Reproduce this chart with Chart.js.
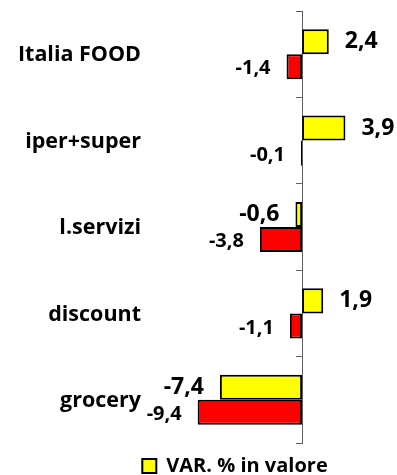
<!DOCTYPE html>
<html>
<head>
<meta charset="utf-8">
<script src="https://cdn.jsdelivr.net/npm/chart.js@4/dist/chart.umd.min.js"></script>
<style>
  html, body { margin: 0; padding: 0; background: #fff; }
  #wrap { width: 397px; height: 475px; }
</style>
</head>
<body>
<div id="wrap"><canvas id="chart"></canvas></div>
<script>
// categorie e variazioni percentuali
const categorie = ["Italia FOOD", "iper+super", "l.servizi", "discount", "grocery"];
const varValore = [2.4, 3.9, -0.6, 1.9, -7.4];
const varRossa = [-1.4, -0.1, -3.8, -1.1, -9.4];
const etichettaValore = "VAR. % in valore";

const FONT = "'Open Sans', sans-serif";

// numeri con la virgola come separatore decimale
function formatta(v) {
    return v.toFixed(1).replace(".", ",");
}

// scrive il valore accanto alla fine di ogni barra
const etichetteValori = {
    id: "etichetteValori",
    afterDatasetsDraw(chart) {
        const ctx = chart.ctx;
        chart.data.datasets.forEach((ds, i) => {
            const meta = chart.getDatasetMeta(i);
            const size = i === 0 ? 23 : 20;
            meta.data.forEach((bar, j) => {
                const v = ds.data[j];
                ctx.save();
                ctx.font = "bold " + size + "px " + FONT;
                ctx.fillStyle = "#000";
                ctx.textBaseline = "middle";
                if (v >= 0) {
                    ctx.textAlign = "left";
                    ctx.fillText(formatta(v), bar.x + 16, bar.y);
                } else {
                    ctx.textAlign = "right";
                    ctx.fillText(formatta(v), bar.x - 16, bar.y + (i === 0 ? 0 : 2));
                }
                ctx.restore();
            });
        });
    }
};

// nomi delle categorie a sinistra, allineati a destra
const nomiCategorie = {
    id: "nomiCategorie",
    afterDraw(chart) {
        const ctx = chart.ctx;
        const scala = chart.scales.y;
        ctx.save();
        ctx.font = "bold 21.5px " + FONT;
        ctx.fillStyle = "#000";
        ctx.textAlign = "right";
        ctx.textBaseline = "middle";
        categorie.forEach((nome, i) => {
            ctx.fillText(nome, chart.chartArea.left - 50, scala.getPixelForValue(i) + 1);
        });
        ctx.restore();
    }
};

new Chart(document.getElementById("chart"), {
    type: "bar",
    data: {
        labels: categorie,
        datasets: [{
            label: etichettaValore,
            data: varValore,
            backgroundColor: "#ffff00",
            borderColor: "#000",
            borderWidth: 2,
            borderSkipped: false,
            categoryPercentage: 0.58,
            barPercentage: 1.0
        }, {
            label: "",
            data: varRossa,
            backgroundColor: "#ff0000",
            borderColor: "#000",
            borderWidth: 2,
            borderSkipped: false,
            categoryPercentage: 0.58,
            barPercentage: 1.0
        }]
    },
    options: {
        indexAxis: "y",
        responsive: true,
        maintainAspectRatio: false,
        animation: false,
        layout: { padding: { top: 11, right: 6, left: 79, bottom: -11 } },
        scales: {
            x: {
                min: -10,
                max: 8,
                grid: { display: false, drawTicks: false },
                border: { display: false },
                ticks: { display: false },
                // spazio vuoto fra il grafico e la legenda
                afterFit(scale) { scale.height = 13; }
            },
            y: {
                offset: true,
                grid: { display: false, drawTicks: false },
                border: { display: false },
                ticks: { display: false },
                afterFit(scale) {
                    scale.width = 112;
                    scale.paddingTop = 0;
                    scale.paddingBottom = 0;
                }
            },
            // asse verticale sullo zero con le tacche fra le categorie
            y2: {
                type: "category",
                labels: categorie,
                position: { x: 0 },
                offset: true,
                grid: { offset: true, drawOnChartArea: false, drawTicks: true, tickLength: 6, color: "#5f5f5f" },
                border: { color: "#5f5f5f", width: 1 },
                ticks: { display: false }
            }
        },
        plugins: {
            legend: {
                position: "bottom",
                labels: {
                    filter: item => item.datasetIndex === 0,
                    color: "#000",
                    boxWidth: 14,
                    boxHeight: 14,
                    padding: 0,
                    font: { family: FONT, size: 20, weight: "bold", lineHeight: 1 }
                }
            },
            tooltip: { enabled: false }
        }
    },
    plugins: [etichetteValori, nomiCategorie]
});
</script>
</body>
</html>
